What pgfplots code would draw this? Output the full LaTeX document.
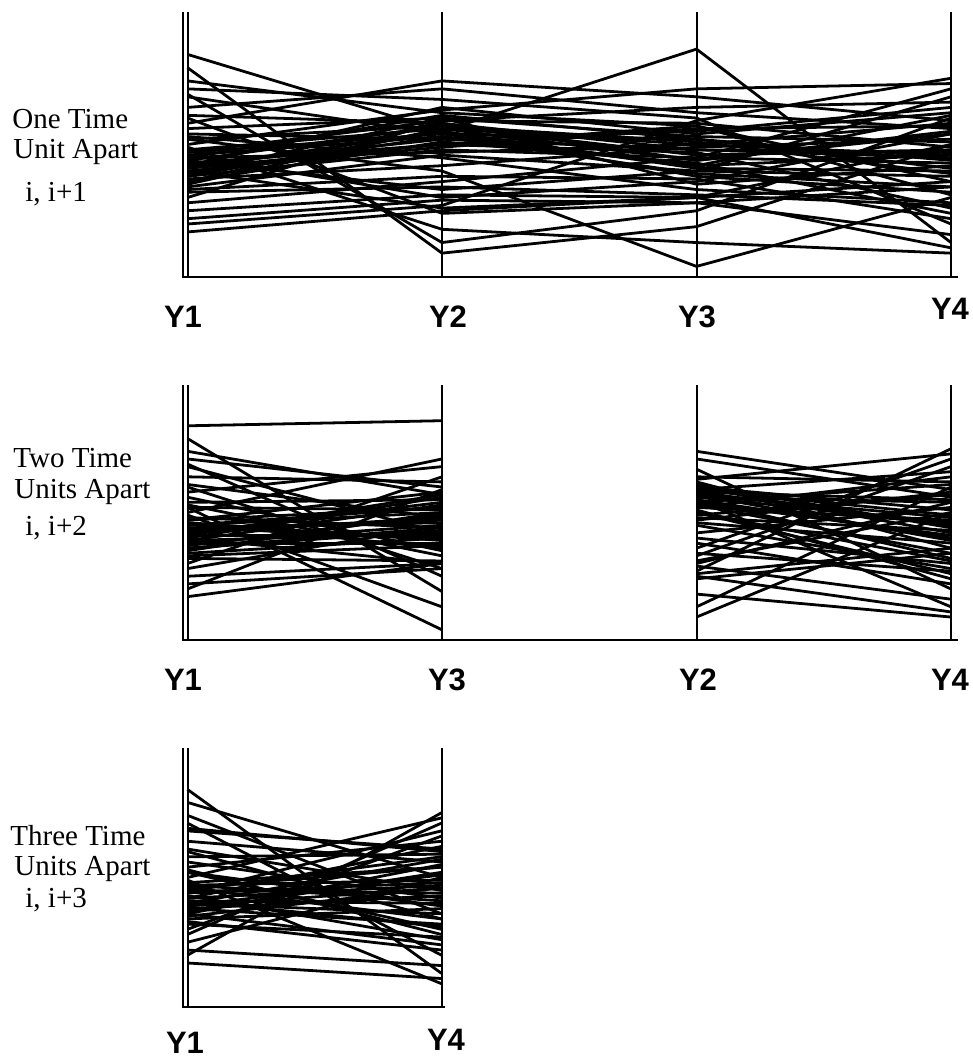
\documentclass[border=0pt]{standalone}
\usepackage{fontspec}
\setmainfont{Liberation Serif}
\setsansfont{Liberation Sans}
\usepackage{pgfplots}
\usepackage{pgfplotstable}
\pgfplotsset{compat=1.18}

% one row per subject: value at times Y1..Y4 (percent of axis height)
\pgfplotstableread{
y1 y2 y3 y4
84 55 86 13
17 25 30 11
52 40 4 30
79 9 19 50
69 13 25 60
74 62 57 36
71 67 60 20
68 54 42 61
64 71 62 56
61 58 48 45
58 74 68 59
56 60 35 42
54 52 55 64
53 45 33 28
52 57 51 39
50 63 71 73
48 56 44 54
47 59 58 49
46 53 39 34
45 61 52 44
44 57 46 48
43 50 47 26
42 64 54 62
41 55 41 40
40 49 56 57
39 60 53 51
38 48 45 43
38 55 38 32
37 42 49 52
36 51 43 24
35 56 50 46
34 46 40 38
33 38 37 22
32 34 31 27
30 59 64 66
28 36 45 71
25 31 30 50
22 29 28 16
20 27 59 75
44 33 40 68
40 26 30 36
46 30 36 54
60 24 28 34
49 18 13 9
42 52 48 47
47 54 52 41
36 58 44 55
41 50 57 31
45 47 50 58
39 53 42 46
}\data
\pgfplotstablegetrowsof{\data}
\pgfmathtruncatemacro{\N}{\pgfplotsretval-1}

\newcommand\getrow[1]{%
 \pgfplotstablegetelem{#1}{y1}\of\data\let\va\pgfplotsretval
 \pgfplotstablegetelem{#1}{y2}\of\data\let\vb\pgfplotsretval
 \pgfplotstablegetelem{#1}{y3}\of\data\let\vc\pgfplotsretval
 \pgfplotstablegetelem{#1}{y4}\of\data\let\vd\pgfplotsretval}

\pgfplotsset{
  pc/.style={scale only axis, hide axis, xmin=0, ymin=0, ymax=100,
    clip=false, anchor=south west},
  pcline/.style={black, line width=1.4pt, line join=miter, mark=none},
}
\tikzset{axl/.style={black, line width=1bp}}
\newcommand\ylab{\sffamily\bfseries\fontsize{15.5bp}{18bp}\selectfont}
\newcommand\llab{\rmfamily\fontsize{14.5bp}{16bp}\selectfont}

\begin{document}
\begin{tikzpicture}
\useasboundingbox (0,0) rectangle (486.5bp,-528.5bp);

% ---------- top panel: i, i+1
\begin{axis}[pc, xmax=3, at={(93.75bp,-138.5bp)}, width=381.75bp, height=132.5bp]
\pgfplotsforeachungrouped \i in {0,...,\N}{%
  \getrow{\i}%
  \edef\tmp{\noexpand\addplot[pcline] coordinates {(0,\va) (1,\vb) (2,\vc) (3,\vd)};}%
  \tmp}
\draw[axl] (axis cs:0,0) -- (axis cs:0,100);
\draw[axl] ([xshift=-2.5bp]axis cs:0,0) -- ([xshift=-2.5bp]axis cs:0,100);
\draw[axl] (axis cs:1,0) -- (axis cs:1,100);
\draw[axl] (axis cs:2,0) -- (axis cs:2,100);
\draw[axl] (axis cs:3,0) -- (axis cs:3,100);
\draw[axl] ([xshift=-3bp]axis cs:0,0) -- ([xshift=3.5bp]axis cs:3,0);
\end{axis}

% ---------- middle panel: i, i+2
\begin{axis}[pc, xmax=3, at={(93.75bp,-320bp)}, width=381.75bp, height=127.5bp]
\pgfplotsforeachungrouped \i in {0,...,\N}{%
  \getrow{\i}%
  \edef\tmp{\noexpand\addplot[pcline] coordinates {(0,\va) (1,\vc)};
            \noexpand\addplot[pcline] coordinates {(2,\vb) (3,\vd)};}%
  \tmp}
\draw[axl] (axis cs:0,0) -- (axis cs:0,100);
\draw[axl] ([xshift=-2.5bp]axis cs:0,0) -- ([xshift=-2.5bp]axis cs:0,100);
\draw[axl] (axis cs:1,0) -- (axis cs:1,100);
\draw[axl] (axis cs:2,0) -- (axis cs:2,100);
\draw[axl] (axis cs:3,0) -- (axis cs:3,100);
\draw[axl] ([xshift=-3bp]axis cs:0,0) -- ([xshift=3.5bp]axis cs:3,0);
\end{axis}

% ---------- bottom panel: i, i+3
\begin{axis}[pc, xmax=1, at={(93.75bp,-503.5bp)}, width=127bp, height=129.5bp]
\pgfplotsforeachungrouped \i in {0,...,\N}{%
  \getrow{\i}%
  \edef\tmp{\noexpand\addplot[pcline] coordinates {(0,\va) (1,\vd)};}%
  \tmp}
\draw[axl] (axis cs:0,0) -- (axis cs:0,100);
\draw[axl] ([xshift=-2.5bp]axis cs:0,0) -- ([xshift=-2.5bp]axis cs:0,100);
\draw[axl] (axis cs:1,0) -- (axis cs:1,100);
\draw[axl] ([xshift=-3bp]axis cs:0,0) -- ([xshift=1.5bp]axis cs:1,0);
\end{axis}

% ---------- axis names
\node[anchor=base, font=\ylab, inner sep=0pt] at (91.5bp,-163.5bp) {Y1};
\node[anchor=base, font=\ylab, inner sep=0pt] at (224bp,-163.5bp) {Y2};
\node[anchor=base, font=\ylab, inner sep=0pt] at (348.5bp,-163.5bp) {Y3};
\node[anchor=base, font=\ylab, inner sep=0pt] at (475bp,-159.5bp) {Y4};

\node[anchor=base, font=\ylab, inner sep=0pt] at (91.5bp,-345bp) {Y1};
\node[anchor=base, font=\ylab, inner sep=0pt] at (223.5bp,-345bp) {Y3};
\node[anchor=base, font=\ylab, inner sep=0pt] at (349bp,-345bp) {Y2};
\node[anchor=base, font=\ylab, inner sep=0pt] at (475bp,-345bp) {Y4};

\node[anchor=base, font=\ylab, inner sep=0pt] at (92.5bp,-526.5bp) {Y1};
\node[anchor=base, font=\ylab, inner sep=0pt] at (223bp,-525bp) {Y4};

% ---------- row labels
\node[anchor=base west, font=\llab, inner sep=0pt] at (6bp,-64bp) {One Time};
\node[anchor=base west, font=\llab, inner sep=0pt] at (6.5bp,-79bp) {Unit Apart};
\node[anchor=base west, font=\llab, inner sep=0pt] at (12.5bp,-100.5bp) {i, i+1};

\node[anchor=base west, font=\llab, inner sep=0pt] at (6.5bp,-233.5bp) {Two Time};
\node[anchor=base west, font=\llab, inner sep=0pt] at (7bp,-249bp) {Units Apart};
\node[anchor=base west, font=\llab, inner sep=0pt] at (12.5bp,-267.5bp) {i, i+2};

\node[anchor=base west, font=\llab, inner sep=0pt] at (5bp,-422.5bp) {Three Time};
\node[anchor=base west, font=\llab, inner sep=0pt] at (7bp,-437.5bp) {Units Apart};
\node[anchor=base west, font=\llab, inner sep=0pt] at (12.5bp,-453.5bp) {i, i+3};
\end{tikzpicture}
\end{document}
